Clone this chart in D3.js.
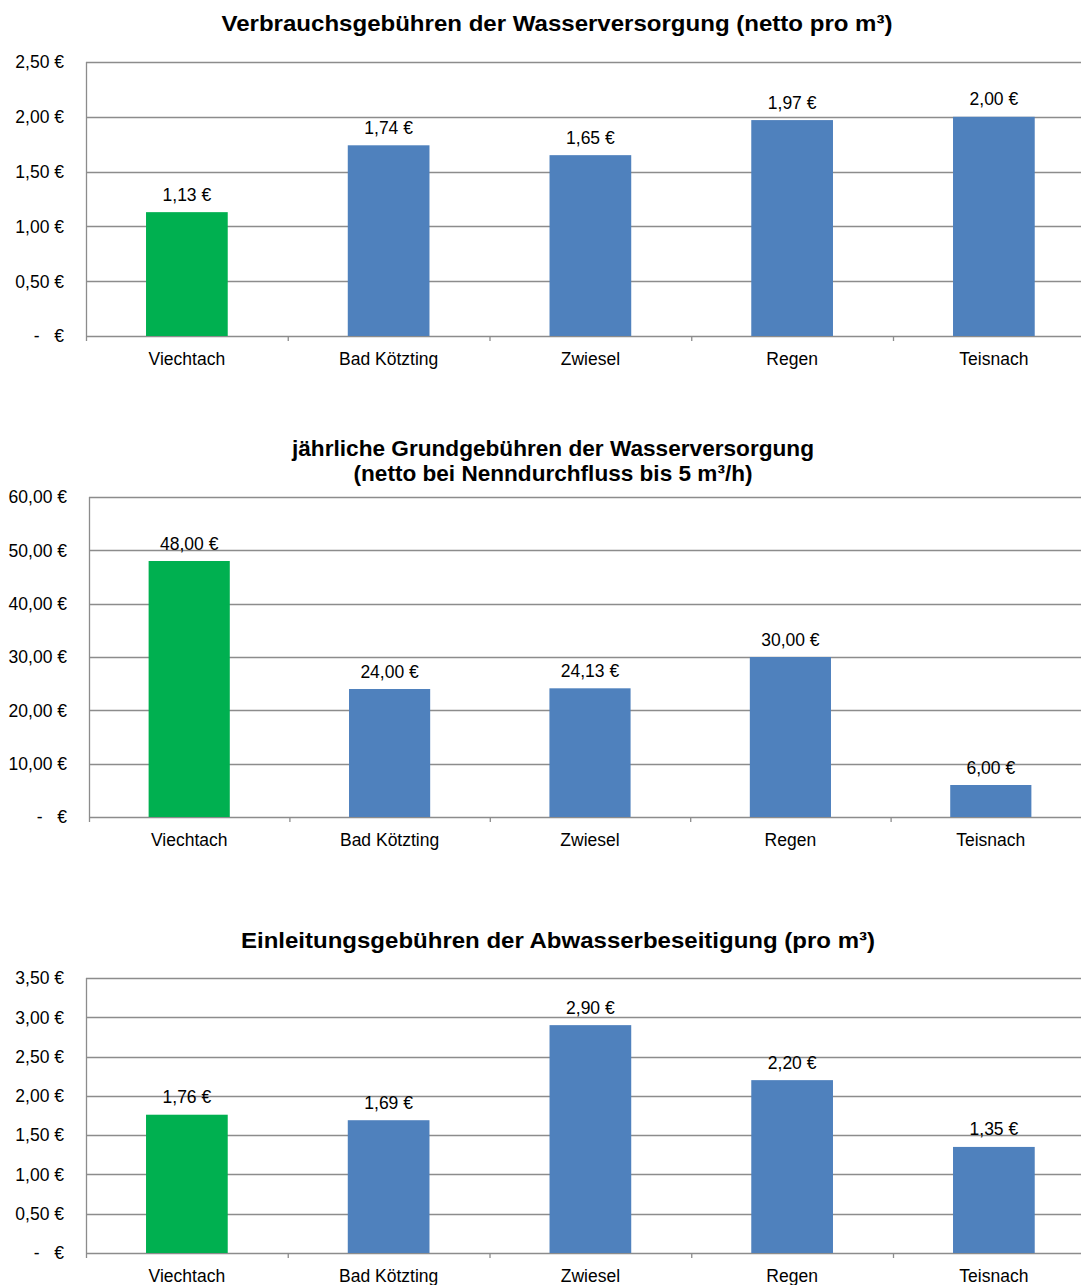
<!DOCTYPE html>
<html><head><meta charset="utf-8">
<script src="https://cdn.jsdelivr.net/npm/d3@7"></script>
<style>body{margin:0;background:#fff}svg{display:block}text{font-family:"Liberation Sans",Arial,sans-serif}</style>
</head><body>
<script>
const categories = ["Viechtach","Bad Kötzting","Zwiesel","Regen","Teisnach"];
const verbrauch = [1.13,1.74,1.65,1.97,2.00];
const grund = [48.00,24.00,24.13,30.00,6.00];
const einleitung = [1.76,1.69,2.90,2.20,1.35];
const verbrauchTicks = [0,0.5,1,1.5,2,2.5];
const grundTicks = [0,10,20,30,40,50,60];
const einleitungTicks = [0,0.5,1,1.5,2,2.5,3,3.5];
const titles = [
  ["Verbrauchsgebühren der Wasserversorgung (netto pro m³)"],
  ["jährliche Grundgebühren der Wasserversorgung","(netto bei Nenndurchfluss bis 5 m³/h)"],
  ["Einleitungsgebühren der Abwasserbeseitigung (pro m³)"]
];
const colors = {highlight:"#00b050", normal:"#4f81bd", grid:"#8c8c8c"};

const W = 1081, H = 1285;
const svg = d3.select("body").append("svg").attr("width",W).attr("height",H);

const fmt = v => v === 0 ? "-\u00a0\u00a0\u00a0€" : d3.format(".2f")(v).replace(".",",") + " €";

function drawChart(cfg){
  const g = svg.append("g");
  const y = d3.scaleLinear().domain([0, d3.max(cfg.ticks)]).range([cfg.zero, cfg.top]);
  const x = d3.scaleBand().domain(categories).range([cfg.left, cfg.left + 5*cfg.step]).paddingInner(0.595).paddingOuter(0.2975);
  g.selectAll("line.grid").data(cfg.ticks).join("line")
    .attr("x1", cfg.left).attr("x2", W).attr("y1", d=>Math.round(y(d))+0.5).attr("y2", d=>Math.round(y(d))+0.5)
    .attr("stroke", colors.grid).attr("stroke-width",1.3);
  g.append("line").attr("x1",cfg.left+0.5).attr("x2",cfg.left+0.5).attr("y1",y(d3.max(cfg.ticks))).attr("y2",cfg.zero+5)
    .attr("stroke",colors.grid).attr("stroke-width",1.3);
  const step = x.step();
  g.selectAll("line.ct").data(d3.range(1,6)).join("line")
    .attr("x1", i=>cfg.left + i*step + 0.5).attr("x2", i=>cfg.left + i*step + 0.5)
    .attr("y1", cfg.zero).attr("y2", cfg.zero+5).attr("stroke",colors.grid).attr("stroke-width",1.3);
  g.selectAll("text.yt").data(cfg.ticks).join("text")
    .attr("x", cfg.left - 22).attr("y", d=>y(d)).attr("dy","0.36em").attr("text-anchor","end")
    .attr("font-size",17.5).attr("fill","#000").text(fmt);
  g.selectAll("rect").data(cfg.values).join("rect")
    .attr("x",(d,i)=>x(categories[i])).attr("width",x.bandwidth())
    .attr("y",d=>y(d)).attr("height",d=>cfg.zero - y(d))
    .attr("fill",(d,i)=> i===0 ? colors.highlight : colors.normal);
  g.selectAll("text.vl").data(cfg.values).join("text")
    .attr("x",(d,i)=>x(categories[i]) + x.bandwidth()/2).attr("y",d=>y(d)-11.5)
    .attr("text-anchor","middle").attr("font-size",17.5).text(fmt);
  g.selectAll("text.cat").data(categories).join("text")
    .attr("x",d=>x(d)+x.bandwidth()/2).attr("y",cfg.zero+29)
    .attr("text-anchor","middle").attr("font-size",17.5).text(d=>d);
  g.selectAll("text.title").data(cfg.title).join("text")
    .attr("x", cfg.titleX).attr("y",(d,i)=>cfg.titleY + i*25)
    .attr("text-anchor","middle").attr("font-size",22).attr("font-weight","bold")
    .attr("textLength",(d,i)=>cfg.titleW[i]).attr("lengthAdjust","spacingAndGlyphs").text(d=>d);
}

drawChart({values:verbrauch, ticks:verbrauchTicks, top:62, zero:336, left:86, step:201.75, title:titles[0], titleW:[671], titleX:557, titleY:31});
drawChart({values:grund, ticks:grundTicks, top:497, zero:817, left:89, step:200.4, title:titles[1], titleW:[522,399], titleX:553, titleY:456});
drawChart({values:einleitung, ticks:einleitungTicks, top:978, zero:1253, left:86, step:201.75, title:titles[2], titleW:[634], titleX:558, titleY:948});
</script>
</body></html>
